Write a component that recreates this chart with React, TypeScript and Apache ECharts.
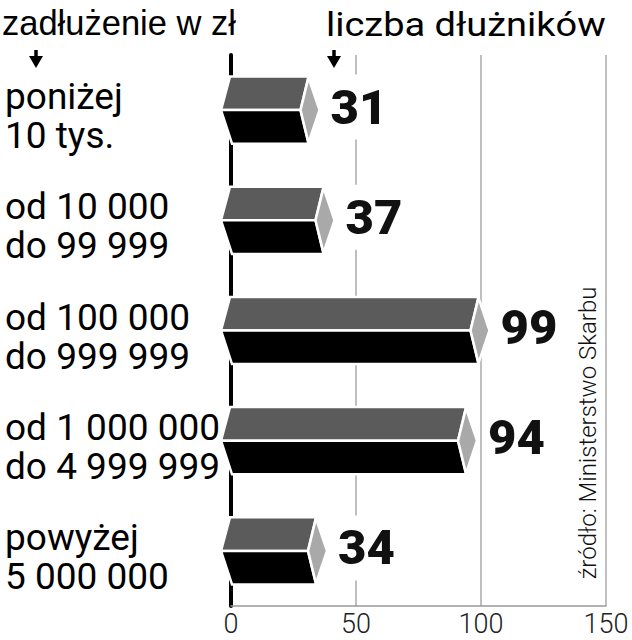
import React, { useEffect, useRef } from "react";
import * as echarts from "echarts";

const categories = [
  "poniżej\n10 tys.",
  "od 10 000\ndo 99 999",
  "od 100 000\ndo 999 999",
  "od 1 000 000\ndo 4 999 999",
  "powyżej\n5 000 000",
];
const debtors = [31, 37, 99, 94, 34];
const xMin = 0;
const xMax = 150;
const xStep = 50;
const headerLeft = "zadłużenie w zł";
const headerRight = "liczba dłużników";
const sourceNote = "źródło: Ministerstwo Skarbu";

const FONT = "Roboto, 'DejaVu Sans', sans-serif";

function arrow(cx: number, top: number) {
  return {
    type: "group",
    children: [
      { type: "rect", shape: { x: cx - 1.75, y: top, width: 3.5, height: 9 }, style: { fill: "#000" } },
      {
        type: "polygon",
        shape: { points: [[cx - 7, top + 6], [cx + 7, top + 6], [cx, top + 18]] },
        style: { fill: "#000" },
      },
    ],
  };
}

export default function App() {
  const ref = useRef<HTMLDivElement>(null);
  useEffect(() => {
    const chart = echarts.init(ref.current!, null, { renderer: "svg" });
    chart.setOption({
      animation: false,
      backgroundColor: "#fff",
      grid: { left: 231, right: 26, top: 55, bottom: 34, containLabel: false },
      xAxis: {
        type: "value",
        min: xMin,
        max: xMax,
        interval: xStep,
        axisLine: { show: true, lineStyle: { color: "#999", width: 1.5 } },
        axisTick: { show: false },
        axisLabel: {
          fontSize: 27,
          lineHeight: 27,
          fontWeight: 300,
          fontFamily: FONT,
          color: "#222",
          margin: 4,
        },
        splitLine: { show: true, lineStyle: { color: "#aaa", width: 1.5 } },
      },
      yAxis: {
        type: "category",
        data: categories,
        inverse: true,
        axisLine: { show: true, lineStyle: { color: "#000", width: 4 } },
        axisTick: { show: false },
        splitLine: { show: false },
        axisLabel: {
          interval: 0,
          showMinLabel: true,
          showMaxLabel: true,
          hideOverlap: false,
          align: "left",
          margin: 226,
          fontSize: 37,
          lineHeight: 39,
          color: "#000",
          fontFamily: FONT,
          formatter: (v: string) => "{s| }\n" + v,
          rich: {
            s: { fontSize: 1, lineHeight: 12 },
          },
        },
      },
      series: [
        {
          type: "custom",
          clip: false,
          encode: { x: 0, y: 1 },
          data: debtors.map((v, i) => [v, i]),
          renderItem: (params: any, api: any) => {
            const v = api.value(0);
            const idx = api.value(1);
            const p0 = api.coord([0, idx]);
            const pv = api.coord([v, idx]);
            const band = api.size([0, 1])[1];
            const h = band * 0.305;
            const yT = p0[1] - h;
            const yM = p0[1];
            const yB = p0[1] + h;
            const xL = p0[0];
            const xR = pv[0];
            const stroke = { stroke: "#fff", lineWidth: 2.5 };
            return {
              type: "group",
              children: [
                {
                  type: "polygon",
                  shape: { points: [[xL - 1, yT], [xR, yT], [xR - 8, yM], [xL - 10, yM]] },
                  style: { fill: "#5b5b5b", ...stroke },
                },
                {
                  type: "polygon",
                  shape: { points: [[xL - 10, yM], [xR - 8, yM], [xR, yB], [xL + 1, yB]] },
                  style: { fill: "#000", ...stroke },
                },
                {
                  type: "polygon",
                  shape: { points: [[xR - 8, yM], [xR, yT + 1], [xR + 11, yM], [xR, yB - 1]] },
                  style: { fill: "#a9a9a9", ...stroke },
                },
                {
                  type: "text",
                  x: xR + 20,
                  y: yM - 3,
                  style: {
                    text: String(v),
                    font: `900 49px ${FONT}`,
                    fill: "#111",
                    align: "left",
                    verticalAlign: "middle",
                    backgroundColor: "#fff",
                    padding: [8, 2, 8, 2],
                  },
                },
              ],
            };
          },
        },
      ],
      graphic: [
        {
          type: "text",
          x: 2,
          y: 23,
          style: {
            text: headerLeft,
            font: `400 34.5px 'Liberation Sans', Arial, sans-serif`,
            fill: "#000",
            verticalAlign: "middle",
          },
        },
        {
          type: "text",
          x: 326,
          y: 25,
          scaleY: 0.86,
          style: {
            text: headerRight,
            font: `400 38px ${FONT}`,
            fill: "#000",
            verticalAlign: "middle",
          },
        },
        arrow(36, 50),
        arrow(334, 50),
        {
          type: "text",
          x: 588,
          y: 433,
          rotation: Math.PI / 2,
          style: {
            text: sourceNote,
            font: `300 24px ${FONT}`,
            fill: "#111",
            align: "center",
            verticalAlign: "middle",
          },
        },
      ],
    });
    return () => chart.dispose();
  }, []);
  return <div ref={ref} style={{ position: "fixed", left: 0, top: 0, width: 632, height: 640 }} />;
}
